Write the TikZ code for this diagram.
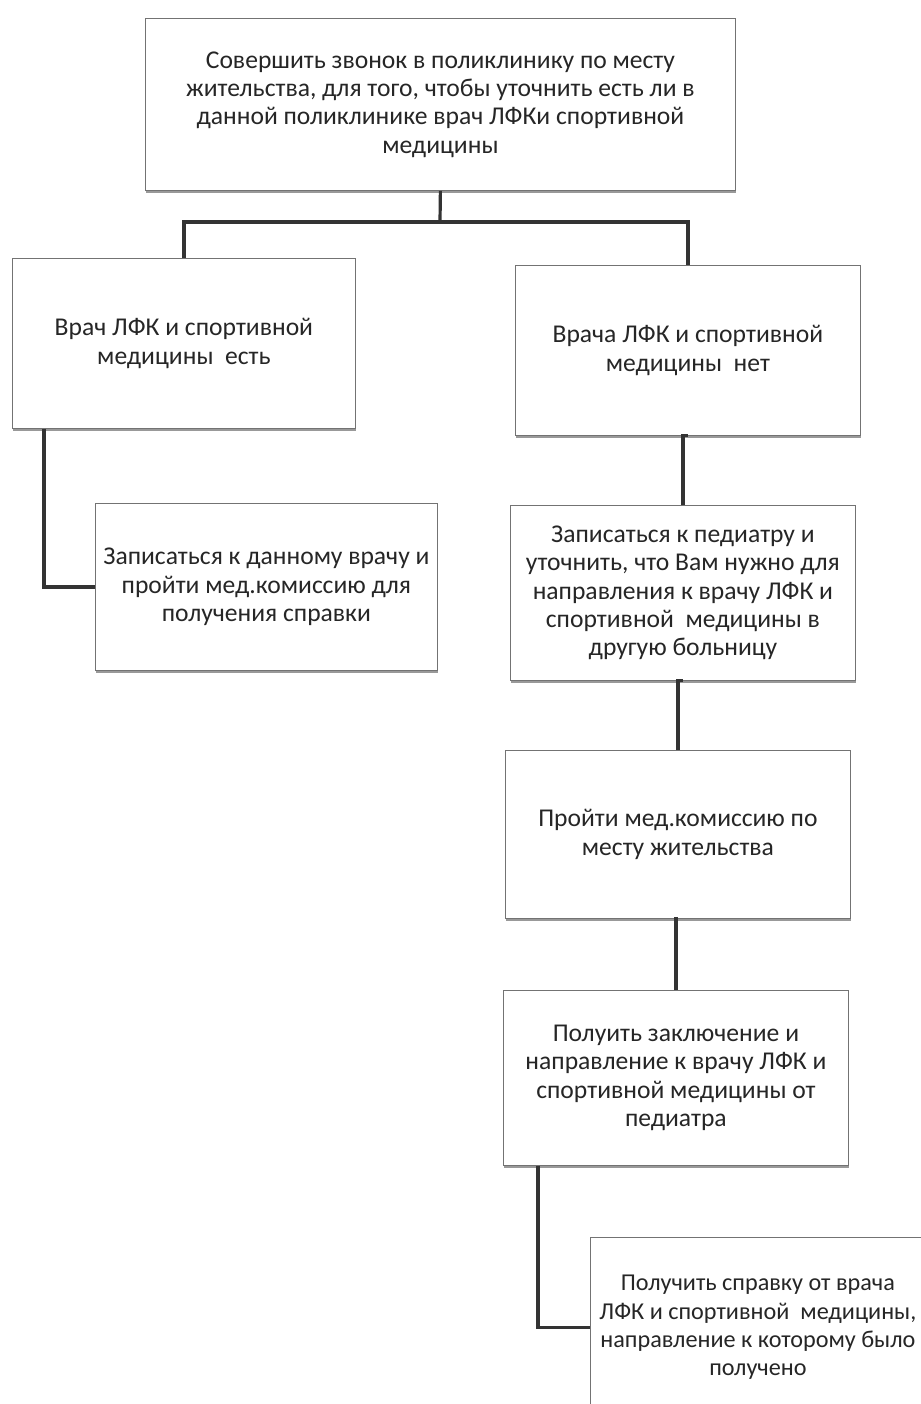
\documentclass[tikz,border=0pt]{standalone}
\usepackage{fontspec}
\setmainfont{Carlito}
\usetikzlibrary{positioning, shadows}

\begin{document}
\begin{tikzpicture}[x=0.5pt, y=-0.5pt, font=\fontsize{12.8}{14.2}\selectfont,
  card/.style={draw=black!55, line width=0.4pt, fill=white, text=black!85, align=center, inner sep=2pt, anchor=north west,
    drop shadow={shadow xshift=0.5pt, shadow yshift=-1.4pt, fill=black!40, opacity=1}},
  link/.style={line width=1.6pt, draw=black!80}]
\useasboundingbox (0,0) rectangle (921,1404);

\node [card, minimum width=295pt, minimum height=86pt] (call) at (145,18)
  {Совершить звонок в поликлинику по месту\\ жительства, для того, чтобы уточнить есть ли в\\ данной поликлинике врач ЛФКи спортивной\\ медицины};
\node [card, minimum width=171.5pt, minimum height=85pt] (yes) at (12,258)
  {Врач ЛФК и спортивной\\ медицины\ \ есть};
\node [card, minimum width=172.5pt, minimum height=85pt] (no) at (515,265)
  {Врача ЛФК и спортивной\\ медицины\ \ нет};
\node [card, minimum width=171pt, minimum height=83.5pt] (enroll) at (95,503)
  {Записаться к данному врачу и\\ пройти мед.комиссию для\\ получения справки};
\node [card, minimum width=172.5pt, minimum height=87.5pt] (ped) at (510,505)
  {Записаться к педиатру и\\ уточнить, что Вам нужно для\\ направления к врачу ЛФК и\\ спортивной\ \ медицины в\\ другую больницу};
\node [card, minimum width=172.5pt, minimum height=84pt] (comm) at (505,750)
  {Пройти мед.комиссию по\\ месту жительства};
\node [card, minimum width=172.5pt, minimum height=87.5pt] (concl) at (503,990)
  {Полуить заключение и\\ направление к врачу ЛФК и\\ спортивной медицины от\\ педиатра};
\node [card, minimum width=167.5pt, minimum height=90pt, font=\fontsize{12.1}{14.2}\selectfont] (cert) at (590,1237)
  {Получить справку от врача\\ ЛФК и спортивной\ \ медицины,\\ направление к которому было\\ получено};

\coordinate (fork) at (440,222);
\draw[link] (call.south) -- (fork);
\draw[link] (yes.north) |- (fork) -| (no.north);
\draw[link] (yes.south west) ++(32,0) |- (enroll.west);
\draw[link] (ped.north) |- (no.south);
\draw[link] (comm.north) |- (ped.south);
\draw[link] (concl.north) |- (comm.south);
\draw[link] (concl.south west) ++(35,0) |- (cert.west);
\end{tikzpicture}
\end{document}
